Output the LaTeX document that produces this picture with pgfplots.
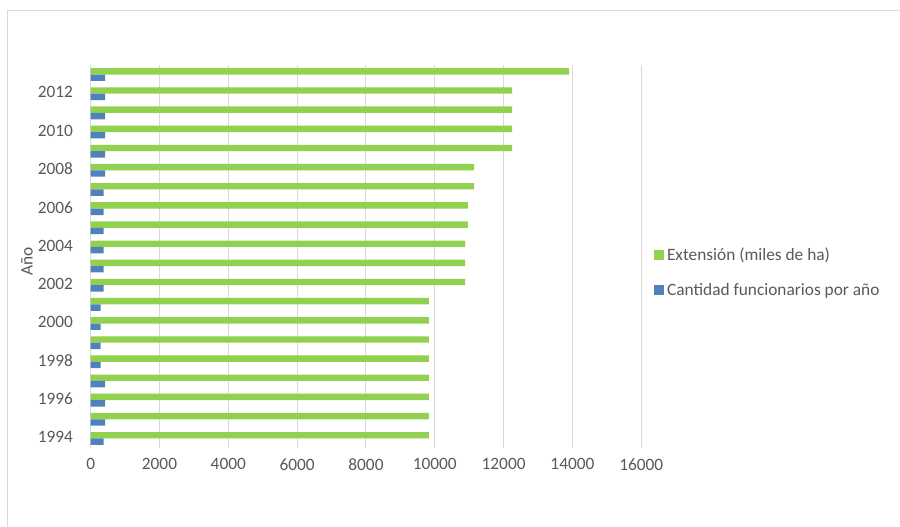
\documentclass[border=0pt]{standalone}
\usepackage{pgfplots}
\pgfplotsset{compat=1.18}
\usepackage{pgfplotstable}
\usepackage{fontspec}
\setmainfont{Carlito}
\definecolor{ggreen}{HTML}{92D050}
\definecolor{gblue}{HTML}{4F81BD}
\definecolor{txt}{HTML}{595959}
\definecolor{gridc}{HTML}{D9D9D9}
\pgfplotstableread{
idx year ext fun
0 1994 9830 375
1 1995 9830 420
2 1996 9830 420
3 1997 9830 420
4 1998 9830 290
5 1999 9830 290
6 2000 9830 290
7 2001 9830 290
8 2002 10880 375
9 2003 10880 375
10 2004 10880 375
11 2005 10960 375
12 2006 10960 375
13 2007 11140 375
14 2008 11140 420
15 2009 12250 420
16 2010 12250 420
17 2011 12250 420
18 2012 12250 420
19 2013 13900 420
}\data
\begin{document}
\begin{tikzpicture}[font=\fontsize{13}{15.6}\selectfont]
\path[use as bounding box] (0,0) rectangle (675pt,395.25pt);
\draw[gridc, line width=0.75pt] (5.5pt,0) -- (5.5pt,387.2pt) -- (675pt,387.2pt);
\begin{axis}[
  at={(68pt,59.25pt)}, anchor=south west,
  scale only axis, width=412.95pt, height=287.25pt,
  xbar, bar width=4.8pt,
  xmin=0, xmax=16000, ymin=-0.5, ymax=19.5,
  xtick={0,2000,4000,6000,8000,10000,12000,14000,16000},
  scaled x ticks=false,
  ytick={0,2,4,6,8,10,12,14,16,18},
  yticklabels={1994,1996,1998,2000,2002,2004,2006,2008,2010,2012},
  /pgf/number format/.cd, 1000 sep={}, assume math mode=true, /pgfplots/.cd,
  axis line style={draw=none},
  tick style={draw=none},
  xmajorgrids, major grid style={draw=gridc, line width=0.75pt},
  ticklabel style={text=txt},
  yticklabel style={xshift=-5.5pt, yshift=1pt},
  xticklabel style={yshift=-4.5pt},
  ylabel={Año},
  every axis y label/.style={at={(axis description cs:-0.1157,0.486)}, rotate=90, anchor=center, text=txt},
  legend style={at={(1.016,0.4585)}, anchor=west, draw=none, fill=none, text=txt, row sep=12pt},
  legend cell align=left,
  legend image code/.code={\fill[#1] (0pt,-3.75pt) rectangle (7.5pt,3.75pt);},
]
\addplot[fill=ggreen, draw=none, bar shift=2.4pt] table[x=ext, y=idx] {\data};
\addlegendentry{Extensión (miles de ha)}
\addplot[fill=gblue, draw=none, bar shift=-2.4pt] table[x=fun, y=idx] {\data};
\addlegendentry{Cantidad funcionarios por año}
\end{axis}
\end{tikzpicture}
\end{document}
